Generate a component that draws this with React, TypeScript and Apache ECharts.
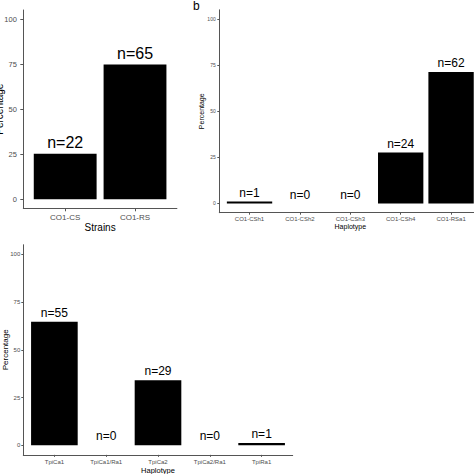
import React, { useEffect, useRef } from "react";
import * as echarts from "echarts";

const strainCats = ["CO1-CS", "CO1-RS"];
const strainPct = [25.3, 74.7];
const strainN = [22, 65];

const coiCats = ["CO1-CSh1", "CO1-CSh2", "CO1-CSh3", "CO1-CSh4", "CO1-RSa1"];
const coiPct = [1.1, 0, 0, 27.6, 71.3];
const coiN = [1, 0, 0, 24, 62];

const tpiCats = ["TpiCa1", "TpiCa1/Ra1", "TpiCa2", "TpiCa2/Ra1", "TpiRa1"];
const tpiPct = [64.7, 0, 34.1, 0, 1.2];
const tpiN = [55, 0, 29, 0, 1];

const yTicks = [0, 25, 50, 75, 100];

const FONT = "Liberation Sans, Arial, Helvetica, sans-serif";
const LINE = "#555";
const TICKTXT = "#4d4d4d";

type P = {
  cats: string[];
  pct: number[];
  n: number[];
  grid: { left: number; top: number; width: number; height: number };
  xName: string;
  yLab: number;
  xLab: number;
  xNameSize: number;
  yNameSize: number;
  nSize: number;
  xMargin: number;
  yMargin: number;
  xNameGap: number;
  yNameGap: number;
  tickLen: number;
  labelDist: number;
};

const panels: P[] = [
  {
    cats: strainCats, pct: strainPct, n: strainN,
    grid: { left: 23.3, top: 10, width: 153.6, height: 198.3 },
    xName: "Strains", yLab: 7.5, xLab: 8, xNameSize: 10, yNameSize: 10, nSize: 16,
    xMargin: 5, yMargin: 6.5, xNameGap: 14.4, yNameGap: 19, tickLen: 3, labelDist: 3,
  },
  {
    cats: coiCats, pct: coiPct, n: coiN,
    grid: { left: 219.3, top: 9.8, width: 262, height: 202.9 },
    xName: "Haplotype", yLab: 5, xLab: 6, xNameSize: 7, yNameSize: 7, nSize: 12,
    xMargin: 3.6, yMargin: 3.6, xNameGap: 10.5, yNameGap: 14.1, tickLen: 2, labelDist: 2.5,
  },
  {
    cats: tpiCats, pct: tpiPct, n: tpiN,
    grid: { left: 23.3, top: 244.75, width: 269.4, height: 210.1 },
    xName: "Haplotype", yLab: 6, xLab: 6, xNameSize: 7.5, yNameSize: 8, nSize: 12,
    xMargin: 3.9, yMargin: 3, xNameGap: 11.4, yNameGap: 14.3, tickLen: 2, labelDist: 3,
  },
];

export default function App() {
  const ref = useRef<HTMLDivElement>(null);
  useEffect(() => {
    if (!ref.current) return;
    const chart = echarts.init(ref.current, undefined, { renderer: "svg" });
    const option: any = {
      animation: false,
      backgroundColor: "#fff",
      textStyle: { fontFamily: FONT },
      grid: panels.map((p) => ({
        ...p.grid,
        containLabel: false,
        outerBoundsMode: "none",
      })),
      xAxis: panels.map((p, i) => ({
        type: "value",
        gridIndex: i,
        min: -0.6,
        max: p.cats.length - 0.4,
        name: p.xName,
        nameLocation: "middle",
        nameGap: p.xNameGap,
        nameMoveOverlap: false,
        nameTextStyle: { fontSize: p.xNameSize, color: "#000", fontFamily: FONT },
        axisLine: { onZero: false, lineStyle: { color: LINE, width: 1 } },
        axisTick: {
          show: true,
          length: p.tickLen,
          lineStyle: { color: LINE },
          customValues: p.cats.map((_, k) => k),
        },
        axisLabel: {
          customValues: p.cats.map((_, k) => k),
          formatter: (v: number) => p.cats[Math.round(v)] ?? "",
          fontSize: p.xLab,
          color: TICKTXT,
          margin: p.xMargin,
          fontFamily: FONT,
        },
        splitLine: { show: false },
      })),
      yAxis: panels.map((p, i) => ({
        type: "value",
        gridIndex: i,
        min: -5,
        max: 105,
        name: "Percentage",
        nameLocation: "middle",
        nameGap: p.yNameGap,
        nameMoveOverlap: false,
        nameTextStyle: { fontSize: p.yNameSize, color: "#000", fontFamily: FONT },
        axisLine: { show: true, onZero: false, lineStyle: { color: LINE, width: 1 } },
        axisTick: { show: true, length: p.tickLen, lineStyle: { color: LINE }, customValues: yTicks },
        axisLabel: {
          customValues: yTicks,
          fontSize: p.yLab,
          color: TICKTXT,
          margin: p.yMargin,
          fontFamily: FONT,
        },
        splitLine: { show: false },
      })),
      series: panels.map((p, i) => ({
        type: "bar",
        xAxisIndex: i,
        yAxisIndex: i,
        barWidth: "90%",
        data: p.pct.map((v, k) => [k, v]),
        itemStyle: { color: "#000" },
        label: {
          show: true,
          position: "top",
          distance: p.labelDist,
          fontSize: p.nSize,
          color: "#000",
          fontFamily: FONT,
          formatter: (d: any) => "n=" + p.n[d.dataIndex],
        },
      })),
      graphic: [
        {
          type: "text",
          left: 193,
          top: 0,
          style: { text: "b", fontSize: 12, fill: "#000", fontFamily: FONT },
        },
      ],
    };
    chart.setOption(option);
    return () => chart.dispose();
  }, []);
  return (
    <div
      ref={ref}
      style={{ position: "fixed", left: 0, top: 0, width: 474, height: 474, background: "#fff" }}
    />
  );
}
